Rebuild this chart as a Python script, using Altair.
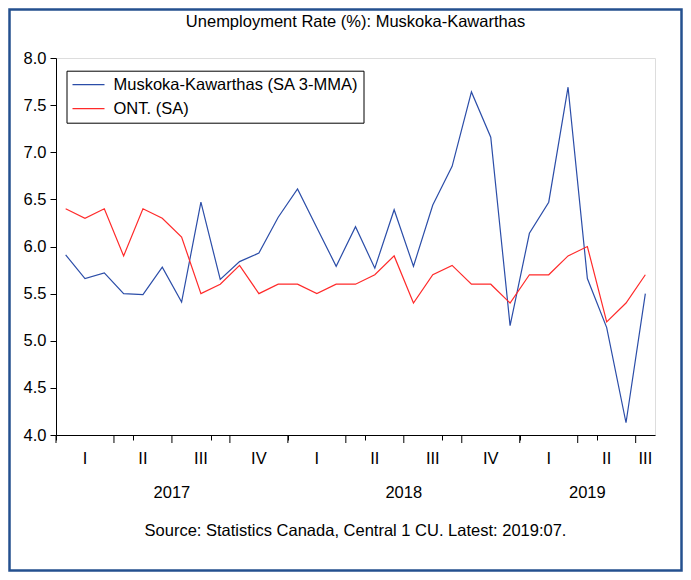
import altair as alt
import pandas as pd

# ---- data ----
months = ["2017-01","2017-02","2017-03","2017-04","2017-05","2017-06","2017-07","2017-08","2017-09","2017-10","2017-11","2017-12",
          "2018-01","2018-02","2018-03","2018-04","2018-05","2018-06","2018-07","2018-08","2018-09","2018-10","2018-11","2018-12",
          "2019-01","2019-02","2019-03","2019-04","2019-05","2019-06","2019-07"]
muskoka = [5.91, 5.66, 5.72, 5.50, 5.49, 5.78, 5.41, 6.47, 5.65, 5.84, 5.93, 6.31,
           6.61, 6.20, 5.79, 6.21, 5.77, 6.39, 5.79, 6.44, 6.85, 7.64, 7.16, 5.16,
           6.14, 6.47, 7.69, 5.66, 5.14, 4.13, 5.50]
ontario = [6.4, 6.3, 6.4, 5.9, 6.4, 6.3, 6.1, 5.5, 5.6, 5.8, 5.5, 5.6,
           5.6, 5.5, 5.6, 5.6, 5.7, 5.9, 5.4, 5.7, 5.8, 5.6, 5.6, 5.4,
           5.7, 5.7, 5.9, 6.0, 5.2, 5.4, 5.7]
series_names = ["Muskoka-Kawarthas (SA 3-MMA)", "ONT. (SA)"]
series_colors = ["#2B4DA8", "#FF2A2A"]

quarter_labels = ["I", "II", "III", "IV", "I", "II", "III", "IV", "I", "II", "III"]
quarter_pos = [1, 4, 7, 10, 13, 16, 19, 22, 25, 28, 30]
quarter_bounds = [-0.5, 2.5, 5.5, 8.5, 11.5, 14.5, 17.5, 20.5, 23.5, 26.5, 29.5]
year_labels = ["2017", "2018", "2019"]
year_pos = [5.5, 17.5, 27]
y_ticks = [4.0, 4.5, 5.0, 5.5, 6.0, 6.5, 7.0, 7.5, 8.0]

title_text = "Unemployment Rate (%): Muskoka-Kawarthas"
source_text = "Source: Statistics Canada, Central 1 CU. Latest: 2019:07."

# ---- tables ----
rows = []
for i, m in enumerate(months):
    rows.append({"idx": i, "month": m, "series": series_names[0], "value": muskoka[i]})
    rows.append({"idx": i, "month": m, "series": series_names[1], "value": ontario[i]})
df = pd.DataFrame(rows)
qdf = pd.DataFrame({"label": quarter_labels, "pos": quarter_pos})
qbdf = pd.DataFrame({"b": quarter_bounds})
ydf = pd.DataFrame({"label": year_labels, "pos": year_pos})

W, H = 599, 377
FONT = "Liberation Sans"
FS = 16.5

xscale = alt.Scale(domain=[-0.5, len(months) - 0.5], nice=False, zero=False)
yscale = alt.Scale(domain=[4, 8], nice=False, zero=False)

month_bounds = [i - 0.5 for i in range(len(months) + 1)]

lines = alt.Chart(df).mark_line(strokeWidth=1.2).encode(
    x=alt.X("idx:Q", scale=xscale,
            axis=alt.Axis(values=month_bounds, labels=False, title=None, grid=False,
                          domainColor="black", tickColor="black", tickSize=5)),
    y=alt.Y("value:Q", scale=yscale,
            axis=alt.Axis(values=y_ticks, format=".1f", title=None, grid=False,
                          domainColor="black", tickColor="black", tickSize=6,
                          labelPadding=4, labelFontSize=FS, labelColor="black", labelFont=FONT)),
    color=alt.Color("series:N", scale=alt.Scale(domain=series_names, range=series_colors),
                    legend=alt.Legend(title=None, orient="none", legendX=10.5, legendY=12.7,
                                      symbolType="M-1,0L3,0", symbolSize=256, symbolStrokeWidth=1.2,
                                      labelFontSize=FS, labelFont=FONT, labelColor="black", labelLimit=500,
                                      strokeColor="black", fillColor="white", padding=5,
                                      rowPadding=6, labelOffset=24)),
)

qticks = alt.Chart(qbdf).mark_rule(color="black", strokeWidth=1).encode(
    x=alt.X("b:Q", scale=xscale), y=alt.value(H), y2=alt.value(H + 8))

qtext = alt.Chart(qdf).mark_text(fontSize=FS, font=FONT, color="black", baseline="alphabetic").encode(
    x=alt.X("pos:Q", scale=xscale), y=alt.value(406), text="label:N")
ytext = alt.Chart(ydf).mark_text(fontSize=FS, font=FONT, color="black", baseline="alphabetic").encode(
    x=alt.X("pos:Q", scale=xscale), y=alt.value(440), text="label:N")

one = pd.DataFrame({"t": [title_text], "s": [source_text]})
title = alt.Chart(one).mark_text(fontSize=FS, font=FONT, color="black", baseline="alphabetic").encode(
    x=alt.value(W / 2), y=alt.value(-31), text="t:N")
source = alt.Chart(one).mark_text(fontSize=FS, font=FONT, color="black", baseline="alphabetic").encode(
    x=alt.value(W / 2), y=alt.value(478), text="s:N")
frame = alt.Chart(one).mark_rect(fill=None, stroke="#24508F", strokeWidth=2.5).encode(
    x=alt.value(-46.5), x2=alt.value(625.5), y=alt.value(-48.5), y2=alt.value(512.5))

chart = alt.layer(frame, lines, qticks, qtext, ytext, title, source).properties(
    width=W, height=H,
    autosize=alt.AutoSizeParams(type="none"),
    padding={"left": 48, "top": 50, "right": 28, "bottom": 137},
).configure_view(stroke="black", strokeWidth=1).configure(font=FONT, background="white")

chart.save("out.html", embed_options={"renderer": "svg", "actions": False})
